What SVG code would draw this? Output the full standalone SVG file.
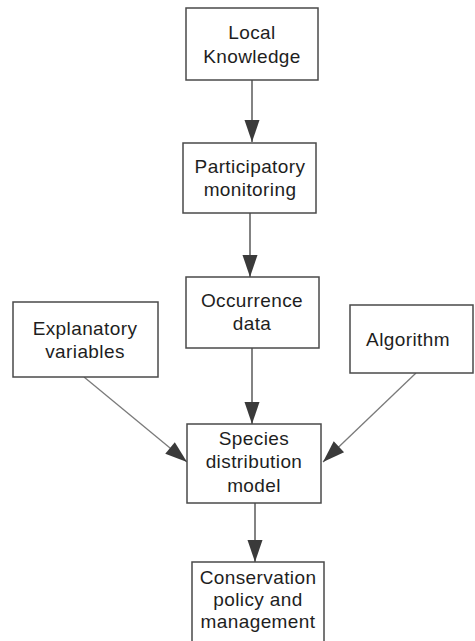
<svg xmlns="http://www.w3.org/2000/svg" width="475" height="641" viewBox="0 0 475 641">
<style>
  .box { fill: #ffffff; stroke: #4a4a4a; stroke-width: 1.5; }
  .lbl { font-family: "Liberation Sans", Arial, sans-serif; font-size: 19px; letter-spacing: 0.4px; fill: #1e1e1e; text-anchor: middle; }
  .conn { stroke: #5a5a5a; stroke-width: 1.5; fill: none; marker-end: url(#arr); }
  .diag { stroke: #7a7a7a; stroke-width: 1.3; }
</style>
<defs>
  <marker id="arr" markerUnits="userSpaceOnUse" markerWidth="24" markerHeight="16" viewBox="0 0 22 16" refX="22" refY="8" orient="auto">
    <path d="M0,0.5 L22,8 L0,15.5 Z" fill="#3a3a3a"/>
  </marker>
</defs>
<rect width="475" height="641" fill="#ffffff"/>
<g id="connectors">
  <line class="conn" x1="252" y1="80" x2="252" y2="142"/>
  <line class="conn" x1="250" y1="213" x2="250" y2="277"/>
  <line class="conn" x1="252" y1="348" x2="252" y2="424"/>
  <line class="conn diag" x1="84" y1="377" x2="187" y2="462"/>
  <line class="conn diag" x1="416" y1="373" x2="323" y2="462"/>
  <line class="conn" x1="255" y1="503" x2="255" y2="562"/>
</g>
<g id="local-knowledge">
  <rect class="box" x="186" y="8" width="132" height="72"/>
  <text class="lbl" x="252" y="39">Local</text>
  <text class="lbl" x="252" y="63">Knowledge</text>
</g>
<g id="participatory-monitoring">
  <rect class="box" x="183" y="143" width="133" height="70"/>
  <text class="lbl" x="250" y="173">Participatory</text>
  <text class="lbl" x="250" y="196">monitoring</text>
</g>
<g id="occurrence-data">
  <rect class="box" x="186" y="277" width="133" height="71"/>
  <text class="lbl" x="252" y="307">Occurrence</text>
  <text class="lbl" x="252" y="330">data</text>
</g>
<g id="explanatory-variables">
  <rect class="box" x="13" y="302" width="145" height="75"/>
  <text class="lbl" x="85" y="335">Explanatory</text>
  <text class="lbl" x="85" y="358">variables</text>
</g>
<g id="algorithm">
  <rect class="box" x="350" y="305" width="123" height="68"/>
  <text class="lbl" x="408" y="346">Algorithm</text>
</g>
<g id="species-distribution-model">
  <rect class="box" x="187" y="424" width="134" height="79"/>
  <text class="lbl" x="254" y="445">Species</text>
  <text class="lbl" x="254" y="468">distribution</text>
  <text class="lbl" x="254" y="492">model</text>
</g>
<g id="conservation-policy">
  <rect class="box" x="192" y="562" width="132" height="90"/>
  <text class="lbl" x="258" y="584">Conservation</text>
  <text class="lbl" x="258" y="606">policy and</text>
  <text class="lbl" x="258" y="628">management</text>
</g>
</svg>
